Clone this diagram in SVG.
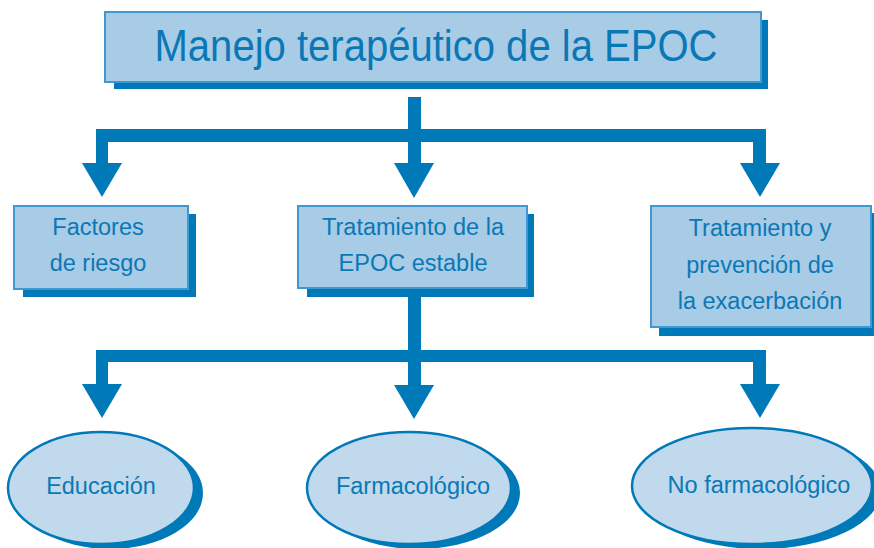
<svg xmlns="http://www.w3.org/2000/svg" width="874" height="548" viewBox="0 0 874 548">
<style>
.sh{fill:#0079b8}
.box{fill:#a8cbe6;stroke:#3f98d0;stroke-width:2}
.ell{fill:#c0d9ec;stroke:#0079b8;stroke-width:2.5}
.t{font-family:"Liberation Sans",Arial,sans-serif;font-size:23.5px;fill:#0b78b6;text-anchor:middle}
.title{font-family:"Liberation Sans",Arial,sans-serif;font-size:44px;fill:#0b78b6;text-anchor:middle}
.con{fill:#0079b8}
</style>
<rect width="874" height="548" fill="#ffffff"/>
<g id="connectors" class="con">
  <rect x="408" y="97" width="13" height="68"/>
  <rect x="96" y="129" width="670" height="13"/>
  <rect x="96" y="129" width="12" height="36"/>
  <rect x="753" y="129" width="13" height="36"/>
  <polygon points="82,163 122,163 102,197"/>
  <polygon points="394,163 434,163 414,198"/>
  <polygon points="740,163 780,163 760,197"/>
  <rect x="408" y="297" width="13" height="90"/>
  <rect x="96" y="350" width="670" height="12"/>
  <rect x="96" y="350" width="12" height="36"/>
  <rect x="753" y="350" width="13" height="36"/>
  <polygon points="82,384 122,384 102,418"/>
  <polygon points="394,385 434,385 414,419"/>
  <polygon points="740,384 780,384 760,418"/>
</g>
<g id="title">
  <rect class="sh" x="114" y="20" width="654" height="69"/>
  <rect class="box" x="105" y="12" width="656" height="70"/>
  <text class="title" x="436" y="61" textLength="563" lengthAdjust="spacingAndGlyphs">Manejo terapéutico de la EPOC</text>
</g>
<g id="factores">
  <rect class="sh" x="23" y="214" width="173" height="83"/>
  <rect class="box" x="14" y="206" width="174" height="83"/>
  <text class="t" x="98" y="235">Factores</text>
  <text class="t" x="98" y="271">de riesgo</text>
</g>
<g id="estable">
  <rect class="sh" x="307" y="214" width="227" height="83"/>
  <rect class="box" x="298" y="206" width="229" height="82"/>
  <text class="t" x="413" y="235">Tratamiento de la</text>
  <text class="t" x="413" y="271">EPOC estable</text>
</g>
<g id="exacerbacion">
  <rect class="sh" x="659" y="213" width="220" height="123"/>
  <rect class="box" x="651" y="206" width="220" height="121"/>
  <text class="t" x="760" y="236">Tratamiento y</text>
  <text class="t" x="760" y="273">prevención de</text>
  <text class="t" x="760" y="309">la exacerbación</text>
</g>
<g id="educacion">
  <ellipse class="sh" cx="110" cy="493" rx="93" ry="56"/>
  <ellipse class="ell" cx="101" cy="488" rx="93" ry="56"/>
  <text class="t" x="101" y="494">Educación</text>
</g>
<g id="farmacologico">
  <ellipse class="sh" cx="418" cy="493" rx="102" ry="56"/>
  <ellipse class="ell" cx="409" cy="488" rx="102" ry="56"/>
  <text class="t" x="413" y="494">Farmacológico</text>
</g>
<g id="nofarmacologico">
  <ellipse class="sh" cx="761" cy="491" rx="120" ry="58"/>
  <ellipse class="ell" cx="752" cy="486" rx="120" ry="58"/>
  <text class="t" x="759" y="493">No farmacológico</text>
</g>
</svg>
